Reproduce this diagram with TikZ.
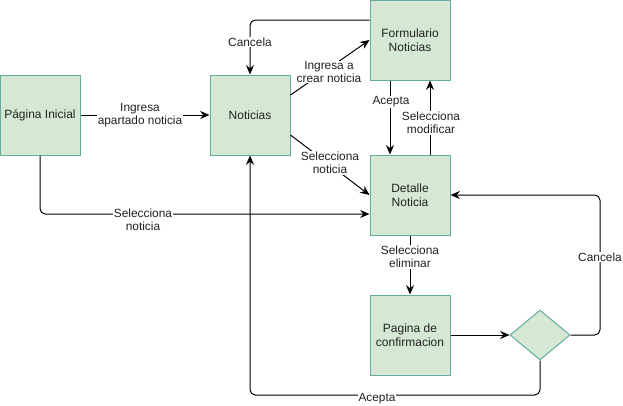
\documentclass[tikz,border=0pt]{standalone}
\usepackage{fontspec}
\setmainfont{Liberation Sans}
\usetikzlibrary{arrows.meta,shapes.geometric}
\definecolor{boxfill}{HTML}{D5E8D4}
\definecolor{boxline}{HTML}{67AB9F}
\definecolor{txt}{HTML}{222222}
\tikzset{
  box/.style={draw=boxline, fill=boxfill, line width=0.75pt, minimum width=60pt, minimum height=60pt, inner sep=1pt, align=center, text=txt, font=\fontsize{9}{10.5}\selectfont},
  dec/.style={draw=boxline, fill=boxfill, line width=0.75pt, shape=diamond, minimum width=45pt, minimum height=37.5pt, inner sep=0pt},
  conn/.style={draw=black, line width=0.75pt, -{Stealth[length=7pt,width=6pt]}, rounded corners=4pt},
  lbl/.style={fill=white, inner sep=0.5pt, align=center, text=txt, font=\fontsize{8.9}{10}\selectfont}
}
\begin{document}
\begin{tikzpicture}[x=0.75pt, y=-0.75pt]
\useasboundingbox (0,0) rectangle (623,405);
\node[box] (pi)   at (40,115)  {Página Inicial};
\node[box] (not)  at (250,115) {Noticias};
\node[box] (form) at (410,40)  {Formulario\\Noticias};
\node[box] (det)  at (410,195) {Detalle\\Noticia};
\node[box] (conf) at (410,335) {Pagina de\\confirmacion};
\node[dec] (dia)  at (540,335) {};
\coordinate (cr) at (600,335);
\coordinate (ab) at (540,395);

\draw[conn] (pi.east) -- (not.west);
\draw[conn] (pi.south) |- ([yshift=-14.25pt]det.west);
\draw[conn] ([yshift=15pt]not.east) -- (form.west);
\draw[conn] ([yshift=-15pt]not.east) -- (det.west);
\draw[conn] ([yshift=15pt]form.west) -| (not.north);
\draw[conn] ([xshift=-15pt]form.south) -- ([xshift=-15pt]det.north);
\draw[conn] ([xshift=15pt]det.north) -- ([xshift=15pt]form.south);
\draw[conn] (det.south) -- (conf.north);
\draw[conn] (conf.east) -- (dia.west);
\draw[conn] (dia.east) -- (cr) |- (det.east);
\draw[conn] (dia.south) -- (ab) -| (not.south);

\node[lbl] (l1) at (140,115) {Ingresa\\apartado noticia};
\node[lbl] (l2) at (143,220) {Selecciona\\noticia};
\node[lbl] (l3) at (329,72)  {Ingresa a\\crear noticia};
\node[lbl] (l4) at (330,163) {Selecciona\\noticia};
\node[lbl] (l5) at (250,42)  {Cancela};
\node[lbl] (l6) at (391,102) {Acepta};
\node[lbl] (l7) at (431,123) {Selecciona\\modificar};
\node[lbl] (l8) at (410,257) {Selecciona\\eliminar};
\node[lbl] (l9) at (600,257) {Cancela};
\node[lbl] (l10) at (377,399) {Acepta};
\end{tikzpicture}
\end{document}
